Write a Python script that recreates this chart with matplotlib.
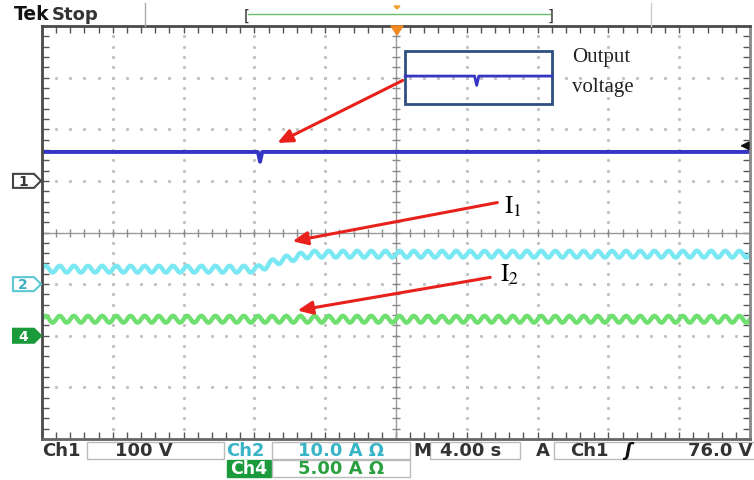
import numpy as np
import matplotlib.pyplot as plt
from matplotlib.patches import Polygon, Rectangle

plt.rcParams['mathtext.fontset'] = 'stix'

# scope screen is 10 x 8 divisions, all trace values in divisions (0 = centre line)
ch1_t = [0, 3.05, 3.08, 3.11, 10]
ch1_v = [1.56, 1.56, 1.37, 1.56, 1.56]

ch2_t = [0, 3.04, 3.30, 3.50, 3.79, 10]
ch2_v = [-0.71, -0.71, -0.56, -0.50, -0.42, -0.42]

ch4_t = [0, 10]
ch4_v = [-1.68, -1.68]

ripple_amp = 0.065
ripple_period = 0.2

zoom_t = [5.13, 6.11, 6.14, 6.17, 7.20]
zoom_v = [3.03, 3.03, 2.85, 3.03, 3.03]

trig_level = 1.68
ch1_ref, ch2_ref, ch4_ref = 1.0, -1.0, -2.0

blue = '#3535c4'
cyan = '#7ae8f2'
green = '#6fdf6f'
red = '#e8211d'

fig = plt.figure(figsize=(7.54, 4.81), dpi=100)
ax = fig.add_axes([42 / 754, 41 / 481, 708 / 754, 413 / 481])
ax.set_xlim(0, 10)
ax.set_ylim(-4, 4)

# graticule
for g in range(1, 10):
    if g != 5:
        yy = np.arange(-4, 4.01, 0.2)
        ax.plot([g] * len(yy), yy, ls='none', marker='s', ms=1.1, color='#c0c0c0')
for g in range(-3, 4):
    if g != 0:
        xx = np.arange(0, 10.01, 0.2)
        ax.plot(xx, [g] * len(xx), ls='none', marker='s', ms=1.1, color='#c0c0c0')
ax.axvline(5, color='#9a9a9a', lw=1)
ax.axhline(0, color='#9a9a9a', lw=1)
mx = np.arange(0, 10.01, 0.2)
my = np.arange(-4, 4.01, 0.2)
ax.plot(mx, [0] * len(mx), ls='none', marker='|', ms=6, mew=1, color='#8a8a8a')
ax.plot([5] * len(my), my, ls='none', marker='_', ms=6, mew=1, color='#8a8a8a')

ax.set_xticks(np.arange(0, 10.01, 0.2))
ax.set_yticks(np.arange(-4, 4.01, 0.2))
ax.tick_params(direction='in', length=5, width=1, color='#555555',
               top=True, right=True, labelbottom=False, labelleft=False)
for s in ax.spines.values():
    s.set_color('#4a4a4a')
    s.set_linewidth(2)
ax.spines['right'].set_color('#888888')
ax.spines['bottom'].set_color('#666666')

# traces
t = np.linspace(0, 10, 3000)
ripple = ripple_amp * np.sin(2 * np.pi * t / ripple_period)
ax.plot(t, np.interp(t, ch4_t, ch4_v) + ripple, color=green, lw=3.2)
ax.plot(t, np.interp(t, ch2_t, ch2_v) + ripple, color=cyan, lw=3.2)
ax.plot(ch1_t, ch1_v, color=blue, lw=2.8)

# zoomed view of output voltage
ax.add_patch(Rectangle((5.13, 2.49), 2.07, 1.03, fill=False, ec='#2e4f80', lw=2, zorder=4))
ax.plot(zoom_t, zoom_v, color=blue, lw=2, zorder=5)
ax.text(7.49, 3.40, 'Output', family='Liberation Serif', fontsize=15, va='center', color='#222222')
ax.text(7.49, 2.82, 'voltage', family='Liberation Serif', fontsize=15, va='center', color='#222222')

# arrows and labels
arr = dict(arrowstyle='-|>,head_length=0.9,head_width=0.4', color=red, lw=2.2)
ax.annotate('', xy=(3.29, 1.71), xytext=(5.13, 2.97), arrowprops=arr)
ax.annotate('', xy=(3.50, -0.18), xytext=(6.47, 0.59), arrowprops=arr)
ax.annotate('', xy=(3.57, -1.52), xytext=(6.37, -0.86), arrowprops=arr)
ax.text(6.52, 0.52, r'$\mathrm{I}_{1}$', fontsize=18, va='center')
ax.text(6.47, -0.80, r'$\mathrm{I}_{2}$', fontsize=18, va='center')

# trigger level arrow on the right
ax.annotate('', xy=(9.82, trig_level), xytext=(10.0, trig_level),
            arrowprops=dict(arrowstyle='-|>,head_length=0.5,head_width=0.25', color='#111111', lw=1.2))

# overlay in pixels for the scope frame texts
ov = fig.add_axes([0, 0, 1, 1])
ov.set_xlim(0, 754)
ov.set_ylim(481, 0)
ov.axis('off')

ov.text(14, 15, 'Tek', fontsize=13.5, fontweight='bold', color='#111111', va='center')
ov.text(52, 15, 'Stop', fontsize=13, fontweight='bold', color='#333333', va='center')
ov.plot([145, 145], [4, 27], color='#aaaaaa', lw=1)
ov.plot([651, 651], [4, 27], color='#cccccc', lw=1)
ov.plot([248, 550], [15, 15], color='#6bbf6b', lw=1)
ov.text(247, 16, '[', fontsize=11, va='center', ha='center', color='#333333')
ov.text(551, 16, ']', fontsize=11, va='center', ha='center', color='#333333')
ov.add_patch(Polygon([[394, 7], [400, 7], [397, 10]], color='#f0a030'))
ov.add_patch(Polygon([[391, 27], [403, 27], [397, 36]], color='#f08a20'))

# channel reference markers
def y_px(v):
    return 27 + (4 - v) * 413 / 8

def marker(v, label, ec, fc, tc):
    y = y_px(v)
    pts = [[13, y - 7], [34, y - 7], [41, y], [34, y + 7], [13, y + 7]]
    ov.add_patch(Polygon(pts, closed=True, ec=ec, fc=fc, lw=1.5))
    ov.text(23, y, label, fontsize=10, fontweight='bold', color=tc, ha='center', va='center')

marker(ch1_ref, '1', '#444444', 'white', '#333333')
marker(ch2_ref, '2', '#5cc8d4', 'white', '#3aaec0')
marker(ch4_ref, '4', '#1a9a3a', '#1a9a3a', 'white')

# status bar
fs = 13
ov.text(42, 451, 'Ch1', fontsize=fs, fontweight='bold', color='#333333', va='center')
ov.add_patch(Rectangle((87, 443), 137, 17, fill=False, ec='#bbbbbb', lw=1))
ov.text(115, 451, '100 V', fontsize=fs, fontweight='bold', color='#333333', va='center')
ov.text(226, 451, 'Ch2', fontsize=fs, fontweight='bold', color='#39b3c6', va='center')
ov.add_patch(Rectangle((272, 443), 138, 17, fill=False, ec='#bbbbbb', lw=1))
ov.text(298, 451, '10.0 A Ω', fontsize=fs, fontweight='bold', color='#39b3c6', va='center')
ov.text(413, 451, 'M', fontsize=fs, fontweight='bold', color='#333333', va='center')
ov.add_patch(Rectangle((430, 443), 90, 17, fill=False, ec='#bbbbbb', lw=1))
ov.text(440, 451, '4.00 s', fontsize=fs, fontweight='bold', color='#333333', va='center')
ov.text(536, 451, 'A', fontsize=fs, fontweight='bold', color='#333333', va='center')
ov.add_patch(Rectangle((554, 443), 210, 17, fill=False, ec='#bbbbbb', lw=1))
ov.text(570, 451, 'Ch1', fontsize=fs, fontweight='bold', color='#333333', va='center')
ov.text(624, 451, 'ʃ', fontsize=fs, fontweight='bold', style='italic', color='#111111', va='center')
ov.text(753, 451, '76.0 V', fontsize=fs, fontweight='bold', color='#333333', va='center', ha='right')
ov.add_patch(Rectangle((227, 461), 44, 17, fc='#1a9a3a', ec='#1a9a3a'))
ov.text(249, 469, 'Ch4', fontsize=12.5, fontweight='bold', color='white', va='center', ha='center')
ov.add_patch(Rectangle((272, 461), 138, 17, fill=False, ec='#bbbbbb', lw=1))
ov.text(298, 469, '5.00 A Ω', fontsize=fs, fontweight='bold', color='#2aa040', va='center')

fig.savefig('out.png', dpi=100)
